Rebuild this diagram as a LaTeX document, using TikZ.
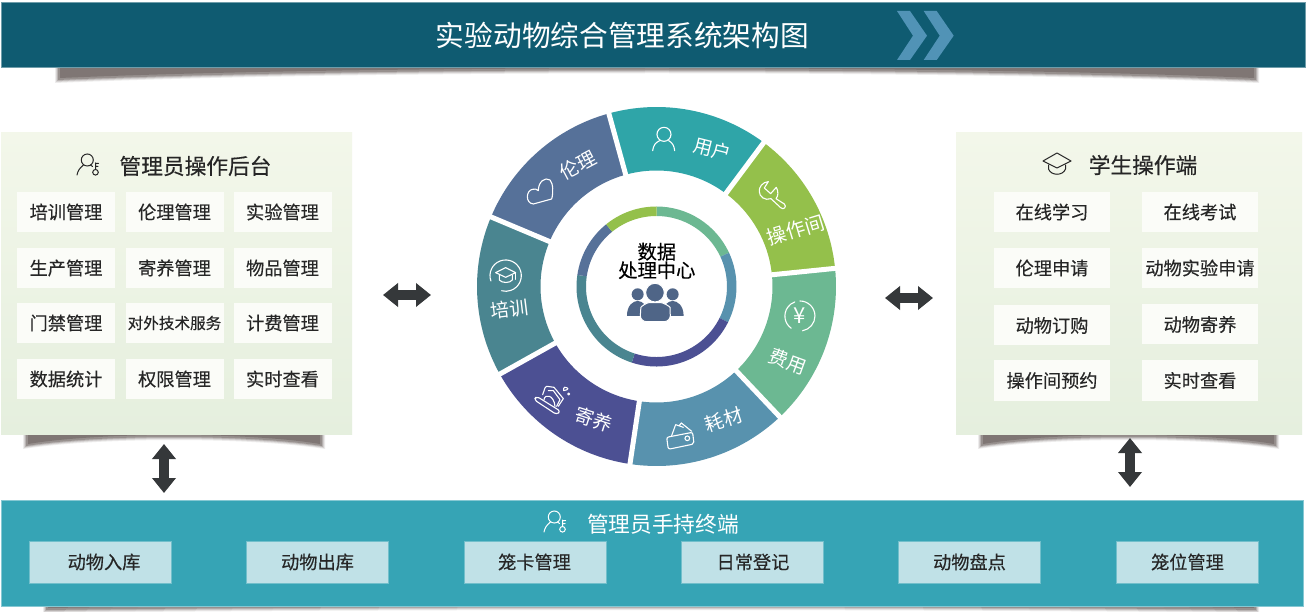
\documentclass[tikz,border=0pt]{standalone}
\usepackage{fontspec}
\setmainfont{Noto Sans CJK SC}
\newfontfamily\heavycjk[FakeBold=0.3]{Noto Sans CJK SC}
\usetikzlibrary{arrows.meta}

\definecolor{headbg}{HTML}{0F5B71}
\definecolor{chevcol}{HTML}{5193B6}
\definecolor{bandbg}{HTML}{36A4B5}
\definecolor{bandcell}{HTML}{C0E1E7}
\definecolor{paneltop}{HTML}{F3F7EA}
\definecolor{panelbot}{HTML}{E5EFDE}
\definecolor{cellbg}{HTML}{FBFCF8}
\definecolor{shadowcol}{HTML}{6F6663}
\definecolor{arrowcol}{HTML}{35383A}
\definecolor{usercol}{HTML}{2FA5A8}
\definecolor{roomcol}{HTML}{94C04B}
\definecolor{feecol}{HTML}{6CB892}
\definecolor{stockcol}{HTML}{5892AE}
\definecolor{boardcol}{HTML}{4C5093}
\definecolor{traincol}{HTML}{4A8590}
\definecolor{ethicscol}{HTML}{567199}
\definecolor{peoplecol}{HTML}{4F6587}

\tikzset{
  panel/.style={rectangle,inner sep=0pt,top color=paneltop,bottom color=panelbot},
  cell/.style={rectangle,fill=cellbg,inner sep=0pt,minimum height=40pt,font=\heavycjk\fontsize{18.2}{19}\selectfont,text=black!85},
  bandbox/.style={rectangle,fill=bandcell,draw=bandbg!70!white,line width=.4pt,inner sep=0pt,minimum width=142pt,minimum height=42pt,font=\heavycjk\fontsize{18.2}{19}\selectfont,text=black!85},
  heading/.style={inner sep=0pt,font=\fontsize{21.7}{22}\selectfont},
  segtext/.style={inner sep=0pt,text=white,font=\fontsize{19}{20}\selectfont},
  twoway/.style={arrowcol,line width=10pt,{Triangle[length=15pt,width=23pt]}-{Triangle[length=15pt,width=23pt]}},
  iconline/.style={white,line width=1.1pt,line cap=round,line join=round}
}

% blurred paper shadow: left, right, top, depth
\newcommand{\papershadow}[4]{
  \foreach \k/\o in {3/.12,2/.18,1/.28,0/.45,-2/.6}
    \fill[shadowcol,opacity=\o] (#1-\k,#3) -- (#2+\k,#3) -- (#2+\k,#3+#4+\k)
      .. controls (#2-#2/4+#1/4,#3+\k) and (#1+#2/4-#1/4,#3+\k) .. (#1-\k,#3+#4+\k) -- cycle;
}

% person with a key
\newcommand{\adminkey}[3]{
  \begin{scope}[shift={(#1,#2)}]
    \draw[#3,line width=1pt] (-0.7,-5) circle[radius=6];
    \draw[#3,line width=1pt,line cap=round] (-11,10) .. controls (-10,5) and (-8,3) .. (-4.5,0);
    \draw[#3,line width=1pt,line cap=round] (2.5,0) -- (4.5,1.5) (7.5,-2) -- (7.5,4.5) (7.5,-1.5) -- (10.5,-1.5) (7.5,1.5) -- (10,1.5);
    \draw[#3,line width=1pt] (7.5,7.3) circle[radius=2.8];
  \end{scope}
}

\begin{document}
\begin{tikzpicture}[x=1pt,y=-1pt]
\useasboundingbox (0,0) rectangle (1307,612);
\fill[white] (0,0) rectangle (1307,612);

% title bar
\papershadow{58}{1256}{67}{13}
\node[rectangle,fill=headbg,draw=headbg!60!white,line width=.5pt,minimum width=1304pt,minimum height=65pt,inner sep=0pt] (titlebar) at (653,34.5) {};
\node[inner sep=0pt,text=white,font=\fontsize{28.7}{30}\selectfont] (titletext) at (622.5,36) {实验动物综合管理系统架构图};
\foreach \x in {0,26.7}
  \fill[chevcol] (897+\x,11) -- (910+\x,11) -- (927+\x,35.7) -- (910+\x,60) -- (897+\x,60) -- (913+\x,35.7) -- cycle;

% admin panel
\papershadow{26}{322}{434}{12}
\node[panel,minimum width=351pt,minimum height=301pt] (adminpanel) at (176.5,283.5) {};
\adminkey{88}{165}{black!85}
\node[heading,font=\heavycjk\fontsize{21.7}{22}\selectfont,text=black!85] (admintitle) at (195.5,166) {管理员操作后台};
\foreach \name/\x/\y/\txt in {
  a1/66/212/培训管理, a2/174.5/212/伦理管理, a3/282.5/212/实验管理,
  a4/66/268/生产管理, a5/174.5/268/寄养管理, a6/282.5/268/物品管理,
  a7/66/323/门禁管理, a9/282.5/323/计费管理,
  a10/66/379/数据统计, a11/174.5/379/权限管理, a12/282.5/379/实时查看}
  \node[cell,minimum width=98pt] (\name) at (\x,\y) {\txt};
\node[cell,minimum width=98pt,font=\heavycjk\fontsize{15.6}{16}\selectfont] (a8) at (174.5,323) {对外技术服务};

% student panel
\papershadow{981}{1276}{434}{12}
\node[panel,minimum width=346pt,minimum height=301pt] (studentpanel) at (1129,283.5) {};
\node[heading,font=\heavycjk\fontsize{21.7}{22}\selectfont,text=black!85] (studenttitle) at (1143,165) {学生操作端};
\begin{scope}[shift={(1057,164)}]
  \draw[black!85,line width=1pt,line join=round] (-14,-3) -- (0,-11) -- (14,-3) -- (0,4) -- cycle;
  \draw[black!85,line width=1pt,line cap=round] (-8.5,1) -- (-8.5,5) .. controls (-6,12) and (6,12) .. (8.5,5) -- (8.5,1);
\end{scope}
\foreach \name/\x/\y/\o/\txt in {
  s1/1052/212/-2.3/在线学习, s2/1200/212/0/在线考试,
  s3/1052/268/-1.3/伦理申请, s4/1200/268/0/动物实验申请,
  s5/1052/325.5/0/动物订购, s6/1200/324.5/-2/动物寄养,
  s7/1052/380.5/-1/操作间预约, s8/1200/380.5/0/实时查看}
  \node[cell,minimum width=116pt] (\name) at (\x,\y) {\raisebox{\o pt}{\txt}};

% handheld band
\papershadow{46}{1256}{606}{4}
\node[rectangle,fill=bandbg,draw=bandbg!60!white,line width=.5pt,minimum width=1302pt,minimum height=106pt,inner sep=0pt] (handband) at (652,553.5) {};
\adminkey{555}{522}{white}
\node[heading,text=white] (handtitle) at (663,524) {管理员手持终端};
\foreach \name/\x/\o/\txt in {
  h1/100/8/动物入库, h2/317/1/动物出库, h3/535/-1/笼卡管理,
  h4/752/2/日常登记, h5/969/1/动物盘点, h6/1187/1/笼位管理}
  \node[bandbox] (\name) at (\x,562) {\hspace*{\o pt}\txt};

% arrows
\coordinate (la1) at (383,295);
\coordinate (la2) at (431,295);
\coordinate (ra1) at (885,298);
\coordinate (ra2) at (933,298);
\coordinate (lb1) at (164,444);
\coordinate (lb2) at (164,493);
\coordinate (rb1) at (1130,438);
\coordinate (rb2) at (1130,487);
\draw[twoway] (la1) -- (la2);
\draw[twoway] (ra1) -- (ra2);
\draw[twoway] (lb1) -- (lb2);
\draw[twoway] (rb1) -- (rb2);

% ring
\begin{scope}[shift={(656.5,286.5)},y=1pt]
\foreach \a/\b/\c in {105.4/53.3/usercol,53.3/5.8/roomcol,5.8/-46.6/feecol,-46.6/-98.5/stockcol,-98.5/-150.8/boardcol,-150.8/-202.8/traincol,157.2/105.4/ethicscol}
  \fill[\c] (\a:179.5pt) arc[start angle=\a,end angle=\b,radius=179.5pt] -- (\b:116pt) arc[start angle=\b,end angle=\a,radius=116pt] -- cycle;
\foreach \a in {105.4,53.3,5.8,-46.6,-98.5,-150.8,157.2}
  \draw[white,line width=5pt] (\a:112pt) -- (\a:183pt);

\foreach \a/\b/\c in {90/25/feecol,25/-26.5/stockcol,-26.5/-108/boardcol,-108/-188.3/traincol,171.7/129/ethicscol,129/90/roomcol}
  \fill[\c] (\a:80pt) arc[start angle=\a,end angle=\b,radius=80pt] -- (\b:70.5pt) arc[start angle=\b,end angle=\a,radius=70.5pt] -- cycle;

\node[segtext,rotate=-14] (seguser) at (55.7pt,137.3pt) {用户};
\node[segtext,rotate=17,font=\fontsize{19.5}{20}\selectfont] (segroom) at (139.3pt,56.7pt) {操作间};
\node[segtext,rotate=-20] (segfee) at (131.7pt,-75pt) {费用};
\node[segtext,rotate=18] (segstock) at (67.3pt,-133.3pt) {耗材};
\node[segtext,rotate=-18] (segboard) at (-62.7pt,-132.7pt) {寄养};
\node[segtext,rotate=7] (segtrain) at (-147.3pt,-22.7pt) {培训};
\node[segtext,rotate=28] (segethics) at (-78.3pt,121.7pt) {伦理};

\node[inner sep=0pt,text=black,font=\heavycjk\fontsize{19.3}{20}\selectfont] (centera) at (0.3pt,34.8pt) {数据};
\node[inner sep=0pt,text=black,font=\heavycjk\fontsize{19.3}{20}\selectfont] (centerb) at (0.3pt,16.3pt) {处理中心};
\node[inner sep=0pt,text=white,font=\fontsize{22}{23}\selectfont] (yen) at (143.3pt,-29.3pt) {¥};
\end{scope}

% icons and people, in a crop's units
\begin{scope}[shift={(470,100)},x=.3333pt,y=-.3333pt]
  \fill[peoplecol] (503,583) circle[radius=18];
  \fill[peoplecol] (608,583) circle[radius=18];
  \fill[peoplecol] (471,648) .. controls (471,615) and (490,603) .. (503,603) .. controls (516,603) and (535,615) .. (535,648) -- cycle;
  \fill[peoplecol] (576,648) .. controls (576,615) and (595,603) .. (608,603) .. controls (621,603) and (641,615) .. (641,648) -- cycle;
  \fill[peoplecol,draw=white,line width=1pt] (555,578) circle[radius=28];
  \fill[peoplecol,draw=white,line width=1pt,rounded corners=6pt] (511,665) -- (511,640) .. controls (513,620) and (530,608) .. (555,608) .. controls (580,608) and (600,620) .. (601,640) -- (601,665) -- cycle;
  % user
  \draw[iconline] (582,103) circle[radius=21];
  \draw[iconline] (548,152) .. controls (550,135) and (558,127) .. (569,122);
  \draw[iconline] (596,122) .. controls (606,127) and (613,137) .. (614,152);
  % wrench
  \draw[iconline] (895,245) -- (883,264) -- (902,281) -- (919,262) .. controls (926,275) and (925,288) .. (918,296) -- (943,312)
    .. controls (952,320) and (940,332) .. (932,323) -- (903,296) .. controls (885,303) and (868,290) .. (868,275) .. controls (866,262) and (878,246) .. (895,245) -- cycle;
  % yen
  \draw[iconline] (990,603) arc[start angle=-90,end angle=80,radius=45];
  \draw[iconline] (964,685) arc[start angle=125,end angle=250,radius=45];
  % wallet
  \draw[iconline,rounded corners=2pt] (590,1012) -- (668,997) -- (672,1032) -- (595,1048) -- cycle;
  \draw[iconline] (605,1007) -- (617,974) -- (640,982) (627,978) -- (634,969) -- (665,994);
  \draw[iconline] (652,1015) circle[radius=7];
  % house
  \draw[iconline,rounded corners=3pt] (200,889) -- (192,899) -- (260,944) -- (272,934) -- cycle;
  \draw[iconline] (218,884) -- (225,864) -- (230,859) -- (252,862) -- (280,896) -- (265,919);
  \draw[iconline] (235,872) -- (250,872) -- (270,899) -- (260,919);
  \draw[iconline] (222,899) .. controls (225,880) and (252,885) .. (255,919);
  \draw[iconline] (281,872) .. controls (279,862) and (287,858) .. (290,863) .. controls (296,862) and (297,870) .. (281,872);
  \draw[iconline] (296,882) circle[radius=3];
  % grad cap in circle
  \draw[iconline] (62.8,543) arc[start angle=160,end angle=465,radius=47];
  \draw[iconline] (77,518) -- (107,503) -- (137,518) -- (107,532) -- cycle;
  \draw[iconline] (88,526) -- (88,540) .. controls (95,550) and (120,550) .. (127,540) -- (127,526);
  \draw[iconline] (137,518) -- (137,538);
  % heart
  \draw[iconline] (245,297) -- (190,312) .. controls (165,310) and (168,270) .. (188,268) .. controls (195,265) and (200,268) .. (205,272)
    .. controls (205,245) and (225,230) .. (240,240) .. controls (250,250) and (250,280) .. (245,297);
\end{scope}
\end{tikzpicture}
\end{document}
